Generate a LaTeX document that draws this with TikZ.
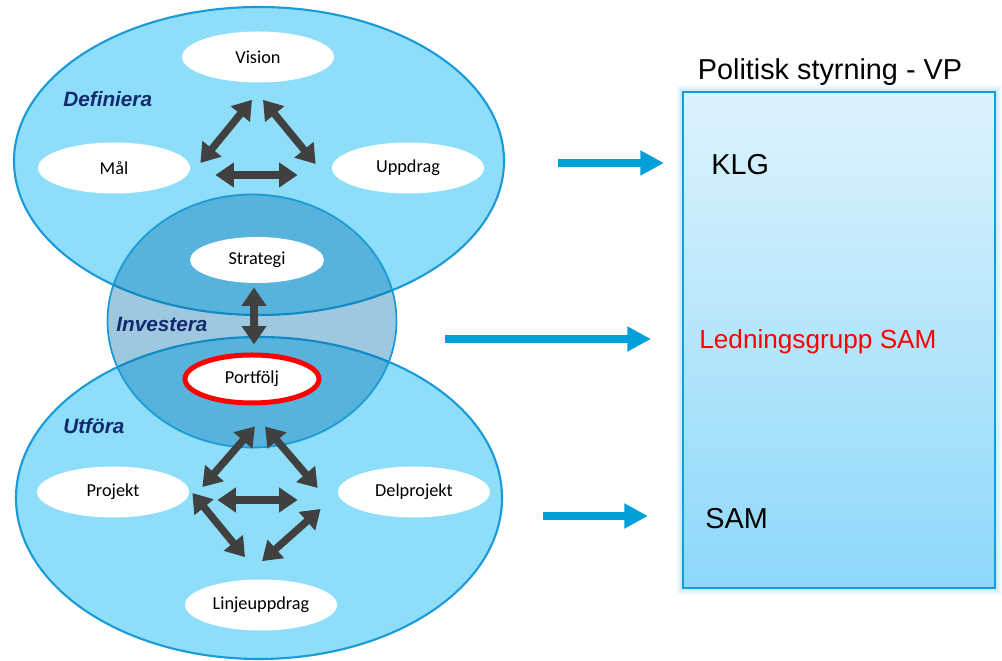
\documentclass[tikz,border=0pt]{standalone}
\usepackage{fontspec}
\setmainfont{Liberation Sans}
\newfontfamily\ovalfont{Carlito}
\usetikzlibrary{arrows.meta,shapes.geometric}
\definecolor{stageblue}{RGB}{142,222,250}
\definecolor{stageline}{RGB}{26,154,214}
\definecolor{overlapblue}{RGB}{0,110,170}
\definecolor{arrowgray}{RGB}{64,64,64}
\definecolor{flowblue}{RGB}{0,160,218}
\definecolor{navylabel}{RGB}{18,42,108}
\definecolor{boxtop}{RGB}{221,243,253}
\definecolor{boxbottom}{RGB}{141,216,250}
\definecolor{boxline}{RGB}{15,160,220}
\definecolor{glow}{RGB}{120,200,240}
\def\pxu{0.02cm}

\begin{document}
\begin{tikzpicture}[x=0.02cm,y=-0.02cm,
  stage/.style={ellipse, fill=stageblue, draw=stageline, line width=1.2pt, inner sep=0pt},
  oval/.style={ellipse, fill=white, inner sep=0pt, minimum width=152*\pxu, minimum height=51*\pxu,
    font=\ovalfont\fontsize{10.4}{12}\selectfont},
  phase/.style={anchor=base west, inner sep=0pt, text=navylabel,
    font=\bfseries\itshape\fontsize{11.8}{14}\selectfont},
  link/.style={draw=arrowgray, line width=4.2pt,
    {Triangle[length=10.5pt,width=13.5pt]}-{Triangle[length=10.5pt,width=13.5pt]}},
  feed/.style={draw=flowblue, line width=4.5pt, -{Triangle[length=13.5pt,width=13.5pt]}},
  boxtext/.style={anchor=base west, inner sep=0pt, font=\fontsize{16.4}{19}\selectfont}
]
\useasboundingbox (0,0) rectangle (1002,661);

% three stages: Definiera, Investera, Utföra
\node[stage, minimum width=490*\pxu, minimum height=308*\pxu] (define) at (259,161) {};
\node[stage, minimum width=486*\pxu, minimum height=322*\pxu] (perform) at (259,498) {};
\node[ellipse, inner sep=0pt, minimum width=289*\pxu, minimum height=253*\pxu,
      fill=overlapblue, fill opacity=0.38, draw=stageline, line width=1pt] (invest) at (252,321) {};

% stage names
\node[phase] (definelbl) at (63,107) {Definiera};
\node[phase] (investlbl) at (116,332) {Investera};
\node[phase] (performlbl) at (63,434) {Utföra};

% activity ovals
\node[oval] (vision) at (258,57) {Vision};
\node[oval] (mal) at (114,168) {Mål};
\node[oval] (uppdrag) at (408,168) {Uppdrag};
\node[oval, minimum width=134*\pxu, minimum height=46*\pxu] (strategi) at (257,260) {Strategi};
\node[oval, minimum width=134*\pxu, minimum height=48*\pxu, draw=red, line width=5*\pxu] (portfolj) at (252,379) {Portfölj};
\node[oval] (projekt) at (113,492) {Projekt};
\node[oval] (delprojekt) at (414,492) {Delprojekt};
\node[oval] (linje) at (261,605) {Linjeuppdrag};

% two-way links
\draw[link] ([shift={(10,-5)}]mal.east) -- ([shift={(-6,17)}]vision.south);
\draw[link] ([shift={(5,17)}]vision.south) -- ([shift={(-16,-4)}]uppdrag.west);
\draw[link] ([shift={(25,7)}]mal.east) -- ([shift={(-34,7)}]uppdrag.west);
\draw[link] ([shift={(-3,4)}]strategi.south) -- ([shift={(2,-8)}]portfolj.north);
\draw[link] ([shift={(13,-5)}]projekt.east) -- ([shift={(3,21)}]portfolj.south);
\draw[link] ([shift={(13,21)}]portfolj.south) -- ([shift={(-20,-4)}]delprojekt.west);
\draw[link] ([shift={(28,8)}]projekt.east) -- ([shift={(-40,8)}]delprojekt.west);
\draw[link] ([shift={(3,1)}]projekt.east) -- ([shift={(-16,-22)}]linje.north);
\draw[link] ([shift={(-17,17)}]delprojekt.west) -- ([shift={(1,-18)}]linje.north);

% political steering box with soft glow
\coordinate (vpnw) at (683,92);
\coordinate (vpse) at (995,588);
\foreach \w/\o in {14/0.08,10/0.12,6/0.18}
  \draw[glow, line width=\w*\pxu, opacity=\o] (vpnw) rectangle (vpse);
\node[draw=boxline, line width=1.4pt, top color=boxtop, bottom color=boxbottom, inner sep=0pt,
      minimum width=312*\pxu, minimum height=496*\pxu] (vp) at (839,340) {};
\node[anchor=base, inner sep=0pt, font=\fontsize{16.4}{19}\selectfont] (vptitle) at (830,80) {Politisk styrning - VP};
\node[boxtext] (klg) at (711,175) {KLG};
\node[boxtext, text=red, font=\fontsize{14.9}{18}\selectfont] (lgsam) at (699,349) {Ledningsgrupp SAM};
\node[boxtext] (sam) at (705,529) {SAM};

% feeds from the stages into the steering box
\coordinate (f1s) at (558,163); \coordinate (f1e) at (664,163);
\coordinate (f2s) at (445,339); \coordinate (f2e) at (651,339);
\coordinate (f3s) at (543,516); \coordinate (f3e) at (648,516);
\draw[feed] (f1s) -- (f1e);
\draw[feed] (f2s) -- (f2e);
\draw[feed] (f3s) -- (f3e);
\end{tikzpicture}
\end{document}
